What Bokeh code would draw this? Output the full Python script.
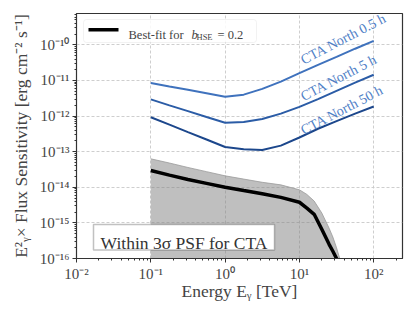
from bokeh.plotting import figure
from bokeh.models import FixedTicker, CustomJSTickFormatter, Label, BoxAnnotation, Range1d
from bokeh.embed import file_html
from bokeh.resources import INLINE

# ---------------- data ----------------
cta_energy = [0.1, 0.178, 0.316, 0.562, 1.0, 1.78, 3.16, 5.62, 10.0, 17.8, 31.6, 56.2, 100.0]
cta_north_05h = [8.5e-12, 6.8e-12, 5.5e-12, 4.4e-12, 3.5e-12, 4.0e-12, 5.8e-12, 9.3e-12,
                 1.6e-11, 2.75e-11, 4.6e-11, 7.8e-11, 1.29e-10]
cta_north_5h = [2.95e-12, 2.0e-12, 1.38e-12, 9.4e-13, 6.5e-13, 6.8e-13, 8.3e-13, 1.17e-12,
                1.82e-12, 3.0e-12, 5.1e-12, 8.7e-12, 1.45e-11]
cta_north_50h = [9.3e-13, 5.75e-13, 3.55e-13, 2.2e-13, 1.35e-13, 1.17e-13, 1.12e-13, 1.48e-13,
                 2.5e-13, 4.4e-13, 7.2e-13, 1.17e-12, 1.86e-12]
cta_names = ["CTA North 0.5 h", "CTA North 5 h", "CTA North 50 h"]

fit_energy = [0.1, 0.178, 0.316, 0.562, 1.0, 1.78, 3.16, 5.62, 10.0, 12.6, 15.8, 20.0,
              25.1, 28.2, 31.6, 35.5]
best_fit = [2.95e-14, 2.2e-14, 1.66e-14, 1.29e-14, 1.0e-14, 8.1e-15, 6.6e-15, 5.2e-15,
            3.8e-15, 2.6e-15, 1.74e-15, 6.6e-16, 2.5e-16, 1.6e-16, 1.0e-16, 5.0e-17]

band_energy = [0.1, 0.178, 0.316, 0.562, 1.0, 1.78, 3.16, 5.62, 10.0, 12.6, 15.8, 20.0,
               25.1, 28.2, 31.6, 35.5, 39.8]
band_upper = [6.3e-14, 4.8e-14, 3.6e-14, 2.75e-14, 2.1e-14, 1.7e-14, 1.38e-14, 1.17e-14,
              8.5e-15, 6.3e-15, 4.1e-15, 1.9e-15, 7.1e-16, 4.0e-16, 2.0e-16, 8.9e-17, 4.0e-17]
band_lower = [1e-18] * len(band_energy)

x_tick_exponents = [-2, -1, 0, 1, 2]
y_tick_exponents = [-16, -15, -14, -13, -12, -11, -10]

legend_label = ["Best-fit for ", "b", "HSE", "= 0.2"]
box_text = "Within 3σ PSF for CTA"
x_label = "Energy Eᵧ [TeV]"
y_label = "E²ᵧ× Flux Sensitivity [erg cm⁻² s⁻¹]"

# ---------------- styling ----------------
FONT = "Liberation Serif"
TXT = "#444444"
cta_colors = ["#3f72bd", "#2b5ca6", "#1c478c"]
label_color = "#4f80c6"

p = figure(x_axis_type="log", y_axis_type="log",
           frame_width=326, frame_height=245,
           min_border_left=76, min_border_right=6, min_border_top=13, min_border_bottom=48,
           output_backend="svg", toolbar_location=None,
           x_range=Range1d(0.01, 244.0), y_range=Range1d(1e-16, 7.6e-10))

p.background_fill_color = "white"
p.border_fill_color = "white"
p.outline_line_color = "#333333"
p.outline_line_width = 1.2

# ticks
def minors(lo, hi):
    return [k * 10.0 ** e for e in range(lo, hi) for k in range(2, 10)]

xt = FixedTicker(ticks=[10.0 ** e for e in x_tick_exponents], minor_ticks=minors(-3, 3))
yt = FixedTicker(ticks=[10.0 ** e for e in y_tick_exponents], minor_ticks=minors(-17, -8))
p.xaxis.ticker = xt
p.yaxis.ticker = yt
p.xgrid.ticker = xt
p.ygrid.ticker = yt

fmt = CustomJSTickFormatter(code="""
const sup = {"-": "\u207b", "0": "\u2070", "1": "\u00b9", "2": "\u00b2", "3": "\u00b3",
             "4": "\u2074", "5": "\u2075", "6": "\u2076", "7": "\u2077", "8": "\u2078", "9": "\u2079"};
const e = Math.round(Math.log10(tick));
return "10" + String(e).split("").map(c => sup[c]).join("");
""")
for ax in (p.xaxis[0], p.yaxis[0]):
    ax.formatter = fmt
    ax.major_label_text_font = FONT
    ax.major_label_text_font_size = "15px"
    ax.major_label_text_color = TXT
    ax.axis_label_text_font = FONT
    ax.axis_label_text_font_size = "17.5px"
    ax.axis_label_text_font_style = "normal"
    ax.axis_label_text_color = TXT
    ax.axis_line_color = "#333333"
    ax.major_tick_line_color = "#333333"
    ax.minor_tick_line_color = "#333333"
    ax.major_tick_out = 4
    ax.major_tick_in = 0
    ax.minor_tick_out = 2
    ax.minor_tick_in = 0
    ax.major_label_standoff = 3

p.xaxis.axis_label = x_label
p.yaxis.axis_label = y_label
p.xaxis.axis_label_standoff = -4
p.yaxis.axis_label_standoff = 6

for g in (p.xgrid[0], p.ygrid[0]):
    g.grid_line_color = "#c8c8c8"
    g.grid_line_dash = "3 2"
    g.grid_line_width = 0.9

# band + best fit
p.varea(x=band_energy, y1=band_lower, y2=band_upper, fill_color="#808080", fill_alpha=0.5)
p.line(x=band_energy, y=band_upper, line_color="#9a9a9a", line_width=0.8)
p.line(x=fit_energy, y=best_fit, line_color="black", line_width=3.5)

# CTA curves
for ys, c in zip([cta_north_05h, cta_north_5h, cta_north_50h], cta_colors):
    p.line(x=cta_energy, y=ys, line_color=c, line_width=2)

# CTA labels
for name, (lx, ly) in zip(cta_names, [(10.7, 3.6e-11), (10.7, 3.4e-12), (10.7, 3.8e-13)]):
    p.add_layout(Label(x=lx, y=ly, text=name, angle=0.48, text_font=FONT,
                       text_font_size="14px", text_color=label_color,
                       text_baseline="alphabetic", text_align="left"))

# legend (manual, frame-relative screen units, y measured from frame bottom)
p.add_layout(BoxAnnotation(left=7, right=180, top=239, bottom=216,
                           left_units="screen", right_units="screen",
                           top_units="screen", bottom_units="screen",
                           fill_color="white", fill_alpha=0.85,
                           line_color="#d5d5d5", line_width=1, border_radius=3))
p.add_layout(BoxAnnotation(left=12, right=42, top=230.5, bottom=227.0,
                           left_units="screen", right_units="screen",
                           top_units="screen", bottom_units="screen",
                           fill_color="black", fill_alpha=1, line_alpha=0))
legend_pos = [(52, 224, "12.5px", "normal"), (115, 224, "12.5px", "italic"),
              (120, 221.5, "8.5px", "normal"), (141, 224, "12.5px", "normal")]
for t, (lx, ly, fs, st) in zip(legend_label, legend_pos):
    p.add_layout(Label(x=lx, y=ly, x_units="screen", y_units="screen", text=t,
                       text_font=FONT, text_font_size=fs, text_font_style=st,
                       text_color=TXT, text_baseline="alphabetic"))

# "Within 3σ PSF for CTA" box
p.add_layout(BoxAnnotation(left=17, right=198, top=34, bottom=8.5,
                           left_units="screen", right_units="screen",
                           top_units="screen", bottom_units="screen",
                           fill_color="white", fill_alpha=1,
                           line_color="#333333", line_width=1.5))
p.add_layout(Label(x=107.5, y=15.5, x_units="screen", y_units="screen", text=box_text,
                   text_font=FONT, text_font_size="17.5px", text_color="#333333",
                   text_align="center", text_baseline="alphabetic"))

open("out.html", "w").write(file_html(p, INLINE))
